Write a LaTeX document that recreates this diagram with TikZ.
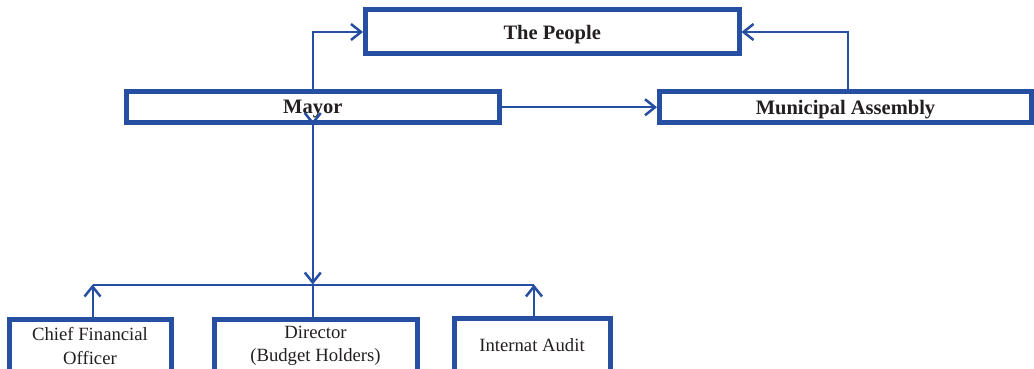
\documentclass[tikz,border=0pt]{standalone}
\usepackage{fontspec}
\setmainfont{Liberation Serif}
\usetikzlibrary{arrows.meta}
\definecolor{boxblue}{RGB}{38,79,161}
\definecolor{txt}{RGB}{35,31,32}
\tikzset{
  topbox/.style={draw=boxblue, line width=5pt, inner sep=0pt, align=center, text=txt,
    text depth=0pt, font=\fontsize{20.5}{24}\selectfont\bfseries},
  lowbox/.style={draw=boxblue, line width=5pt, inner sep=0pt, align=center, text=txt,
    font=\fontsize{18.7}{23.5}\selectfont},
  conn/.style={draw=boxblue, line width=2pt},
  arr/.style={conn, -{Straight Barb[length=10pt,width=16pt,line width=2.5pt]}}
}
\begin{document}
\begin{tikzpicture}[x=1pt,y=-1pt]
\useasboundingbox (0,0) rectangle (1034,369);
\clip (0,0) rectangle (1034,369);
% top row
\node[topbox, minimum width=373.5pt, minimum height=44pt] (people) at (552.25,32) {The People};
\node[topbox, minimum width=373.5pt, minimum height=30.5pt] (mayor) at (312.75,107.25) {Mayor};
\node[topbox, minimum width=372pt, minimum height=30.5pt] (assembly) at (845.5,107.25) {Municipal Assembly};
% bottom row
\node[lowbox, minimum width=162pt, minimum height=54pt] (cfo) at (90,346) {Chief Financial\\Officer};
\node[lowbox, minimum width=203pt, minimum height=54pt] (director) at (315.5,346) {Director\\(Budget Holders)};
\node[lowbox, minimum width=156pt, minimum height=54pt] (audit) at (532,345) {Internat Audit};
\coordinate (bus) at (92.5,284.5);
% connectors
\draw[arr] (mayor.north) |- (people.west);
\draw[arr] ([xshift=2pt]assembly.north) |- (people.east);
\draw[arr] (mayor.east) -- (assembly.west);
\draw[arr] ([yshift=1pt]mayor.south) -- (mayor.south);
\draw[arr] (mayor.south) -- (mayor.south |- bus);
\draw[conn] ([xshift=2.5pt]cfo.north |- bus) -- ([xshift=2pt]audit.north |- bus);
\draw[conn] (mayor.south |- director.north) -- (mayor.south |- bus);
\draw[arr] ([xshift=2.5pt]cfo.north) -- ([xshift=2.5pt]cfo.north |- bus);
\draw[arr] ([xshift=2pt]audit.north) -- ([xshift=2pt]audit.north |- bus);
\end{tikzpicture}
\end{document}
